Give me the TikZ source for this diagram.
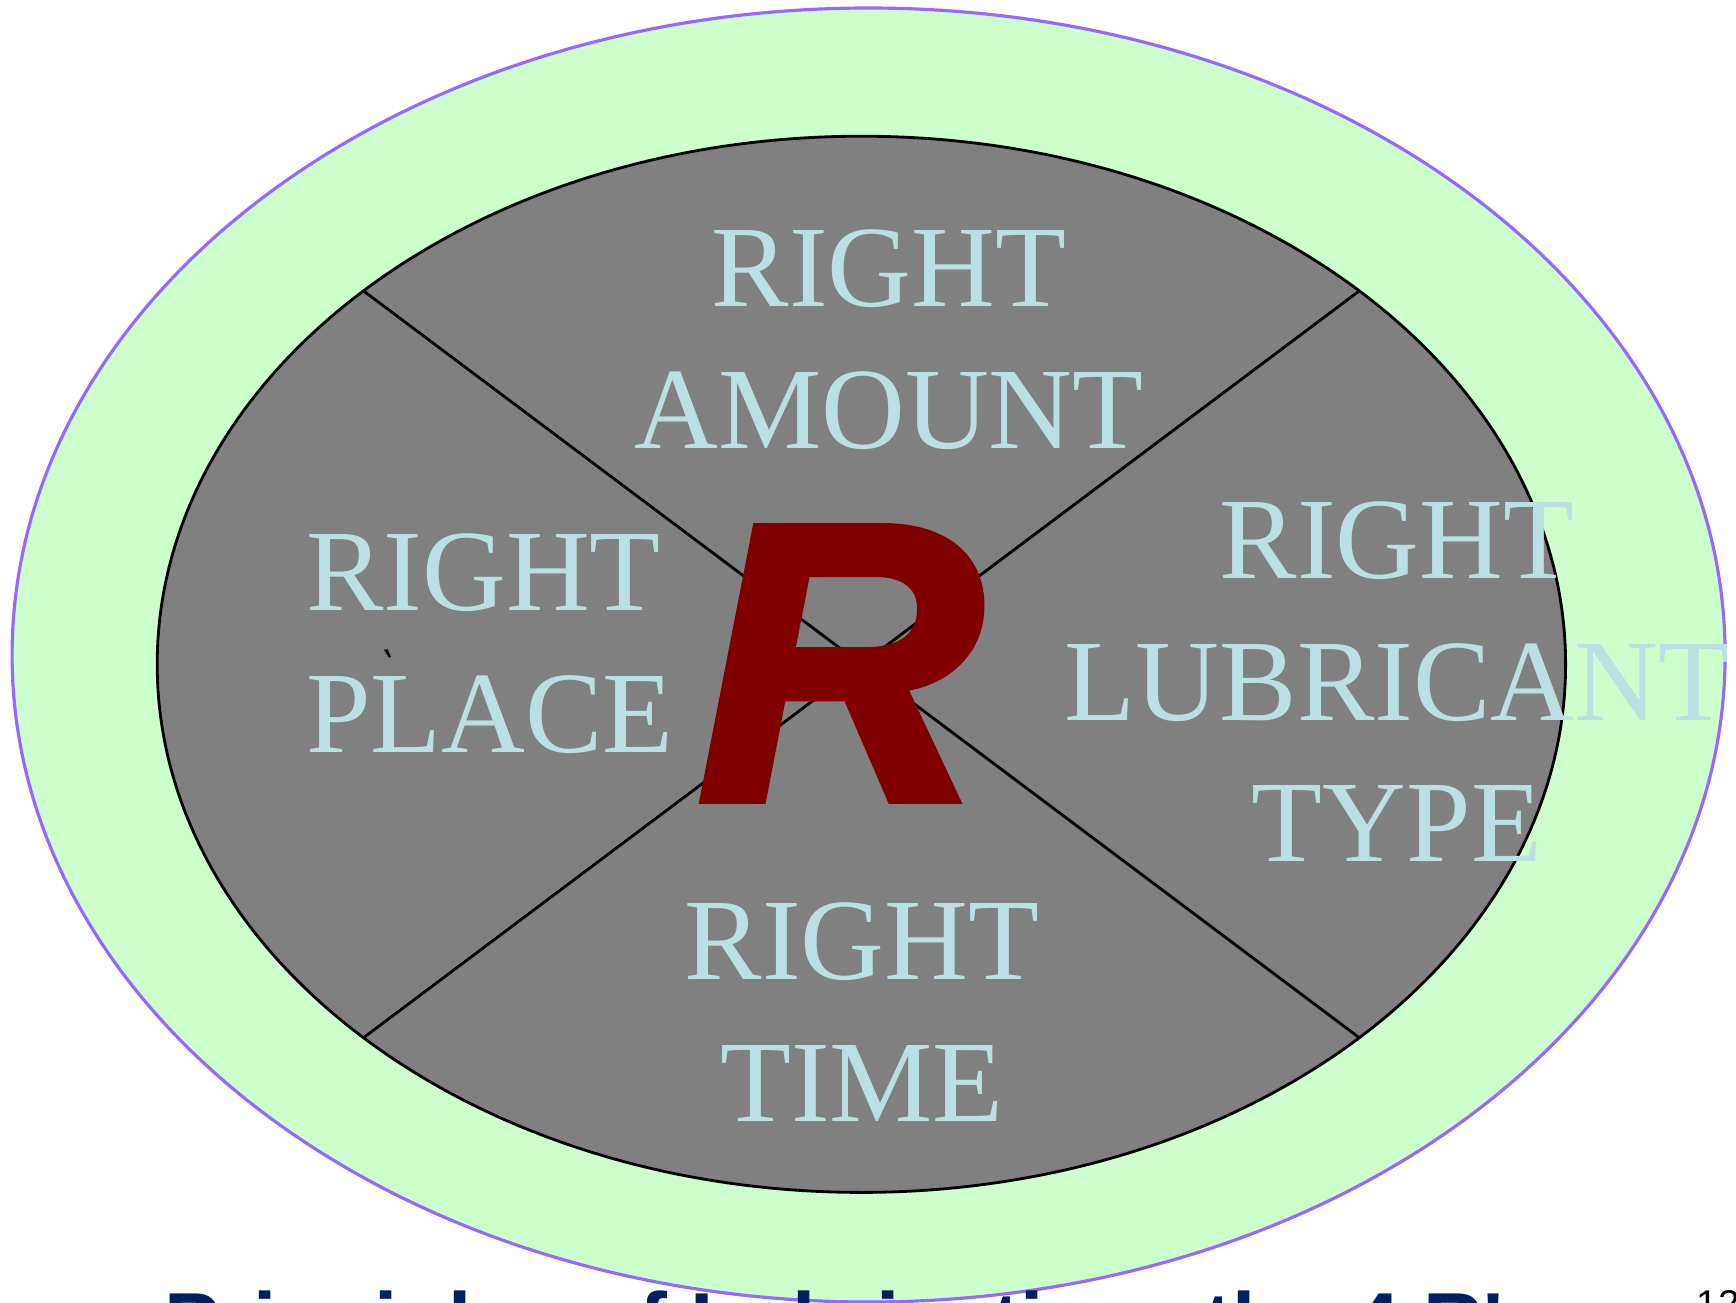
\documentclass[tikz,border=0pt]{standalone}
\usepackage{fontspec}
\setmainfont{Liberation Serif}
\newfontfamily\arialfont{Liberation Sans}
\newfontfamily\heavyfont[FakeBold=2.5]{Liberation Sans}

\definecolor{ringgreen}{HTML}{CCFFCC}
\definecolor{ringline}{HTML}{9966FF}
\definecolor{discgray}{HTML}{808080}
\definecolor{lettercyan}{HTML}{BBE0E3}
\definecolor{rred}{HTML}{800000}
\definecolor{titlenavy}{HTML}{002060}

\begin{document}
\begin{tikzpicture}[
    x=0.01cm, y=-0.01cm,
    lab/.style={inner sep=0pt, text=lettercyan, font=\fontsize{33}{40}\selectfont},
    bigR/.style={inner sep=0pt, text=rred, font=\heavyfont\bfseries\itshape\fontsize{112}{112}\selectfont},
    divider/.style={line width=0.8pt},
  ]
  \useasboundingbox (0,0) rectangle (1736,1303);

  %% ---- rings ---------------------------------------------------------
  \filldraw[fill=ringgreen, draw=ringline, line width=0.9pt]
    (868.6,655) ellipse (856.5 and 647);
  \coordinate (c) at (861.4,664.3);
  \filldraw[fill=discgray, draw=black, divider] (c) ellipse (704.2 and 528.1);

  %% ---- dividers ------------------------------------------------------
  \coordinate (nw) at (363.5,290.9);
  \coordinate (ne) at (1359.3,290.9);
  \coordinate (sw) at (363.5,1037.7);
  \coordinate (se) at (1359.3,1037.7);
  \draw[divider] (nw) -- (se);
  \draw[divider] (ne) -- (sw);

  %% ---- quadrant labels -----------------------------------------------
  \node[lab, anchor=base] (amt1) at (889,306.7) {RIGHT};
  \node[lab, anchor=base] (amt2) at (889,448.4) {AMOUNT};
  \node[lab, anchor=base west] (plc1) at (305.6,610.1) {RIGHT};
  \node[lab, anchor=base west] (plc2) at (305.6,752.9) {PLACE};
  \node[lab, anchor=base] (typ1) at (1397,578) {RIGHT};
  \node[lab, anchor=base] (typ2) at (1397,720.8) {LUBRICANT};
  \node[lab, anchor=base] (typ3) at (1397,861.4) {TYPE};
  \node[lab, anchor=base] (tim1) at (862,979.9) {RIGHT};
  \node[lab, anchor=base] (tim2) at (862,1121.6) {TIME};
  \fill (384,650) -- (387.5,649) -- (391,657) -- (389,657.5) -- cycle;

  %% ---- centre letter -------------------------------------------------
  \node[bigR, anchor=base] (rr) at (840,799) {R};

  %% ---- cut-off title and page number ---------------------------------
  \node[inner sep=0pt, anchor=base west, text=titlenavy,
        font=\arialfont\bfseries\fontsize{23.8}{24}\selectfont] (ttl)
    at (164,1351) {Principles of Lubrication: the 4 R's};
  \node[inner sep=0pt, anchor=base west,
        font=\arialfont\fontsize{11}{12}\selectfont] (pg)
    at (1696,1317) {12};
\end{tikzpicture}
\end{document}
